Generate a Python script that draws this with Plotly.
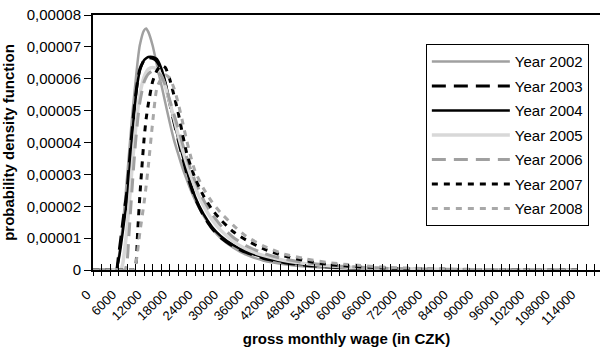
import plotly.graph_objects as go

# wage grid (CZK)
X = [0, 5000, 5500, 6000, 6500, 7000, 7500, 8000, 8500, 9000, 9500, 10000, 10500, 11000,
     12000, 12500, 13000, 14000, 15000, 16000, 17000, 18000, 19000, 20000, 21000, 22000,
     23000, 24000, 26000, 28000, 30000, 33000, 36000, 40000, 45000, 50000, 55000, 60000,
     70000, 80000, 90000, 100000, 114000]

# density values in units of 1e-5
Y2002 = [0, 0, 0, 0.35, 0.85, 1.4, 2.1, 2.9, 3.7, 4.5, 5.25, 5.9, 6.55, 7.05,
         7.52, 7.58, 7.47, 7.05, 6.45, 5.85, 5.25, 4.65, 4.1, 3.65, 3.22, 2.85,
         2.5, 2.2, 1.7, 1.3, 1.0, 0.7, 0.48, 0.3, 0.18, 0.11, 0.07, 0.045,
         0.02, 0.008, 0.003, 0.001, 0]
Y2003 = [0, 0, 0, 0.45, 0.95, 1.5, 2.0, 2.5, 3.3, 4.1, 4.85, 5.45, 5.95, 6.3,
         6.58, 6.64, 6.66, 6.64, 6.55, 6.3, 5.82, 5.25, 4.65, 4.1, 3.55, 3.05,
         2.62, 2.25, 1.7, 1.3, 1.02, 0.74, 0.55, 0.37, 0.23, 0.15, 0.1, 0.067,
         0.03, 0.013, 0.005, 0.002, 0]
Y2004 = [0, 0, 0, 0.3, 0.7, 1.2, 1.7, 2.2, 3.0, 3.85, 4.65, 5.35, 5.9, 6.25,
         6.58, 6.64, 6.68, 6.68, 6.62, 6.35, 5.9, 5.3, 4.7, 4.15, 3.62, 3.13,
         2.7, 2.3, 1.75, 1.35, 1.07, 0.78, 0.58, 0.4, 0.25, 0.17, 0.11, 0.075,
         0.035, 0.015, 0.006, 0.002, 0]
Y2005 = [0, 0, 0, 0, 0, 0.2, 0.7, 1.3, 2.05, 2.9, 3.7, 4.4, 5.0, 5.5,
         6.05, 6.2, 6.3, 6.35, 6.3, 6.1, 5.75, 5.28, 4.78, 4.25, 3.78, 3.35,
         2.95, 2.6, 2.02, 1.58, 1.25, 0.9, 0.66, 0.46, 0.3, 0.2, 0.13, 0.09,
         0.042, 0.02, 0.009, 0.004, 0]
Y2006 = [0, 0, 0, 0, 0, 0, 0, 0.25, 1.2, 2.2, 3.15, 4.0, 4.7, 5.25,
         5.9, 6.05, 6.15, 6.25, 6.22, 6.1, 5.8, 5.35, 4.9, 4.45, 3.98, 3.55,
         3.15, 2.8, 2.2, 1.75, 1.4, 1.02, 0.76, 0.53, 0.34, 0.23, 0.155, 0.105,
         0.048, 0.023, 0.011, 0.005, 0]
Y2007 = [0, 0, 0, 0, 0, 0, 0, 0, 0, 0, 0, 0.1, 1.2, 2.3,
         4.1, 4.75, 5.2, 5.9, 6.25, 6.42, 6.35, 6.0, 5.5, 4.95, 4.3, 3.68,
         3.25, 2.88, 2.32, 1.9, 1.58, 1.2, 0.94, 0.67, 0.44, 0.29, 0.18, 0.12,
         0.055, 0.025, 0.012, 0.005, 0]
Y2008 = [0, 0, 0, 0, 0, 0, 0, 0, 0, 0, 0, 0.15, 0.6, 1.16,
         2.1, 2.65, 3.25, 4.6, 5.7, 6.0, 6.12, 6.02, 5.72, 5.25, 4.68, 4.08,
         3.55, 3.1, 2.55, 2.13, 1.8, 1.4, 1.06, 0.76, 0.5, 0.35, 0.24, 0.17,
         0.08, 0.038, 0.018, 0.008, 0]

SERIES_NAMES = ["Year 2002", "Year 2003", "Year 2004", "Year 2005", "Year 2006", "Year 2007", "Year 2008"]
SERIES_VALUES = [Y2002, Y2003, Y2004, Y2005, Y2006, Y2007, Y2008]

X_TICK_VALUES = list(range(0, 114001, 6000))
X_TICK_LABELS = [str(v) for v in X_TICK_VALUES]
Y_TICK_VALUES = [0, 1e-5, 2e-5, 3e-5, 4e-5, 5e-5, 6e-5, 7e-5, 8e-5]
Y_TICK_LABELS = ["0", "0,00001", "0,00002", "0,00003", "0,00004", "0,00005", "0,00006", "0,00007", "0,00008"]

STYLES = [
    dict(color="#a0a0a0", width=2.5, dash="solid"),
    dict(color="#000000", width=3, dash="14px,8px"),
    dict(color="#000000", width=2.5, dash="solid"),
    dict(color="#d8d8d8", width=3.5, dash="solid"),
    dict(color="#a0a0a0", width=3, dash="14px,8px"),
    dict(color="#000000", width=3, dash="6px,6px"),
    dict(color="#a8a8a8", width=3, dash="6px,6px"),
]

FONT = "Liberation Sans, Arial, sans-serif"

fig = go.Figure()
for i, (name, vals, st) in enumerate(zip(SERIES_NAMES, SERIES_VALUES, STYLES)):
    fig.add_trace(go.Scatter(
        x=X, y=[v * 1e-5 for v in vals], mode="lines", name=name,
        line=dict(color=st["color"], width=st["width"], dash=st["dash"], shape="spline", smoothing=0.6),
        legendgroup=name,
    ))

# invisible helper trace on the overlay axis for crossing ticks
fig.add_trace(go.Scatter(x=[0], y=[0], xaxis="x2", mode="markers",
                         marker=dict(opacity=0), showlegend=False, hoverinfo="skip"))

XMAX = 119200
fig.update_layout(
    width=600, height=352,
    margin=dict(l=93, r=0, t=15, b=82),
    paper_bgcolor="white", plot_bgcolor="white",
    font=dict(family=FONT, size=15, color="black"),
    showlegend=True,
    legend=dict(
        x=0.978, y=0.885, xanchor="right", yanchor="top",
        bgcolor="white", bordercolor="black", borderwidth=1,
        font=dict(family=FONT, size=15, color="black"),
        tracegroupgap=2, itemwidth=78,
    ),
    xaxis=dict(
        range=[0, XMAX], tickmode="array", tickvals=X_TICK_VALUES, ticktext=X_TICK_LABELS,
        tickangle=-45, tickfont=dict(size=13), ticks="outside", ticklen=4, tickwidth=1,
        tickcolor="black", showline=True, linecolor="black", linewidth=2, mirror=True,
        showgrid=False, zeroline=False, ticklabelstandoff=6, ticklabelshift=-6,
        minor=dict(dtick=2000, tick0=0, ticks="outside", ticklen=4, tickcolor="black", tickwidth=1),
        title=dict(text="<b>gross monthly wage (in CZK)</b>", font=dict(size=15), standoff=6),
    ),
    xaxis2=dict(
        range=[0, XMAX], overlaying="x", anchor="y", side="bottom", tickmode="linear",
        tick0=0, dtick=2000, ticks="inside", ticklen=6, tickwidth=1, tickcolor="black",
        showticklabels=False, showgrid=False, zeroline=False, showline=False, layer="above traces",
    ),
    yaxis=dict(
        range=[0, 8e-5], tickmode="array", tickvals=Y_TICK_VALUES, ticktext=Y_TICK_LABELS,
        ticks="outside", ticklen=7, tickwidth=1, tickcolor="black",
        showline=True, linecolor="black", linewidth=2, mirror=False,
        showgrid=False, zeroline=False,
        title=dict(text="<b>probability density function</b>", font=dict(size=15), standoff=10),
    ),
)

fig.write_html("out.html")
